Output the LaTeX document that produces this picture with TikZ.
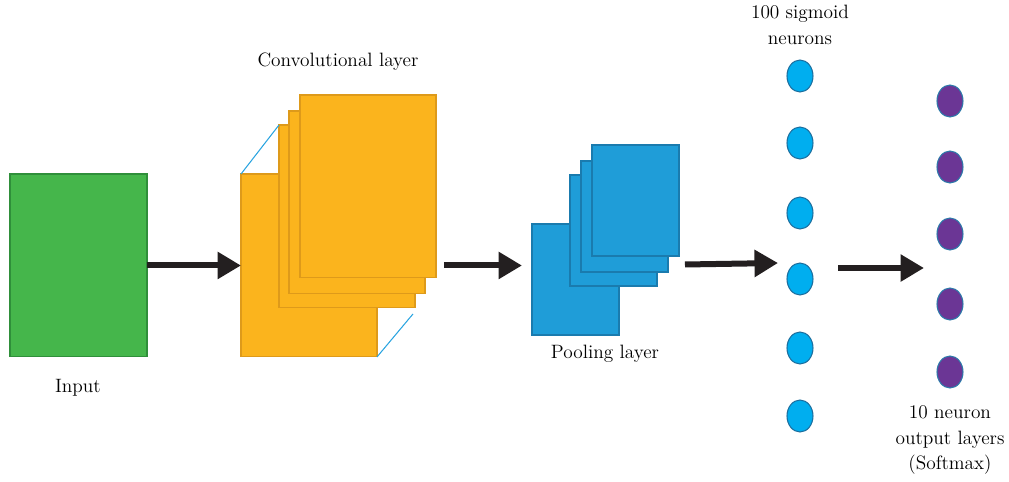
\documentclass[tikz,border=0pt]{standalone}
\usetikzlibrary{shapes, arrows.meta, positioning, calc}

\definecolor{ingreen}{HTML}{45B64B}
\definecolor{ingreenline}{HTML}{2F8F3A}
\definecolor{convorange}{HTML}{FBB41D}
\definecolor{convline}{HTML}{DE9A1A}
\definecolor{poolblue}{HTML}{1F9DD8}
\definecolor{poolline}{HTML}{1A7BAE}
\definecolor{linkblue}{HTML}{2AA4E0}
\definecolor{hidblue}{HTML}{00AEEF}
\definecolor{hidline}{HTML}{1C6E9E}
\definecolor{outpurple}{HTML}{6B3695}
\definecolor{outline}{HTML}{2C7BAA}
\definecolor{arrowblack}{HTML}{231F20}

\begin{document}
\begin{tikzpicture}[x=0.02cm, y=-0.02cm, every node/.style={outer sep=0pt},
    fmap/.style={draw=convline, fill=convorange, line width=0.6pt, minimum width=2.72cm, minimum height=3.66cm, anchor=north west, inner sep=0pt},
    pmap/.style={draw=poolline, fill=poolblue, line width=0.6pt, minimum width=1.74cm, minimum height=2.22cm, anchor=north west, inner sep=0pt},
    hidden/.style={ellipse, draw=hidline, fill=hidblue, line width=0.6pt, minimum width=0.52cm, minimum height=0.64cm, inner sep=0pt},
    outn/.style={ellipse, draw=outline, fill=outpurple, line width=0.6pt, minimum width=0.52cm, minimum height=0.64cm, inner sep=0pt},
    flow/.style={-{Triangle[length=0.47cm, width=0.52cm]}, line width=0.12cm, draw=arrowblack},
    lbl/.style={font=\fontsize{11}{14.7}\selectfont, align=center, inner sep=0pt}]
    \useasboundingbox (0,0) rectangle (1009,481);

    % input image
    \node[draw=ingreenline, fill=ingreen, line width=0.6pt, minimum width=2.74cm, minimum height=3.66cm, anchor=north west, inner sep=0pt] (input) at (10,174) {};
    \node[lbl] at (78,388) {Input};

    % convolutional feature maps, back to front
    \node[fmap] (conv1) at (241,174) {};
    \node[fmap] (conv2) at (279,125) {};
    \node[fmap] (conv3) at (289,111) {};
    \node[fmap] (conv4) at (300,95) {};
    \draw[linkblue, line width=0.6pt] (conv1.north west) -- (conv2.north west);
    \draw[linkblue, line width=0.6pt] (conv1.south east) -- ($(conv2.south east)+(-2,6)$);
    \node[lbl] at (338,62) {Convolutional layer};

    % pooling maps
    \node[pmap] (pool1) at (532,224) {};
    \node[pmap] (pool2) at (570,175) {};
    \node[pmap] (pool3) at (581,161) {};
    \node[pmap] (pool4) at (592,145) {};
    \node[lbl] at (605,354) {Pooling layer};

    % fully connected neurons
    \foreach \y [count=\i] in {76,143,213,279,348,416}
        \node[hidden] (h\i) at (800,\y) {};
    \node[lbl] at (800,25) {100 sigmoid\\neurons};

    \foreach \y [count=\i] in {101,167,234,304,372}
        \node[outn] (o\i) at (950,\y) {};
    \node[lbl] at (950,440) {10 neuron\\output layers\\(Softmax)};

    % data flow
    \draw[flow] (input.east) -- (conv1.west);
    \draw[flow] ($(conv4.east |- input.east)+(8,0)$) -- ($(pool1.west |- input.east)+(-10,0)$);
    \draw[flow] ($(pool4.east)+(6,64)$) -- ($(h4.west)+(-9,-16)$);
    \draw[flow] ($(h4.east)+(25,-11)$) -- ($(o3.west)+(-13,34)$);
\end{tikzpicture}
\end{document}
